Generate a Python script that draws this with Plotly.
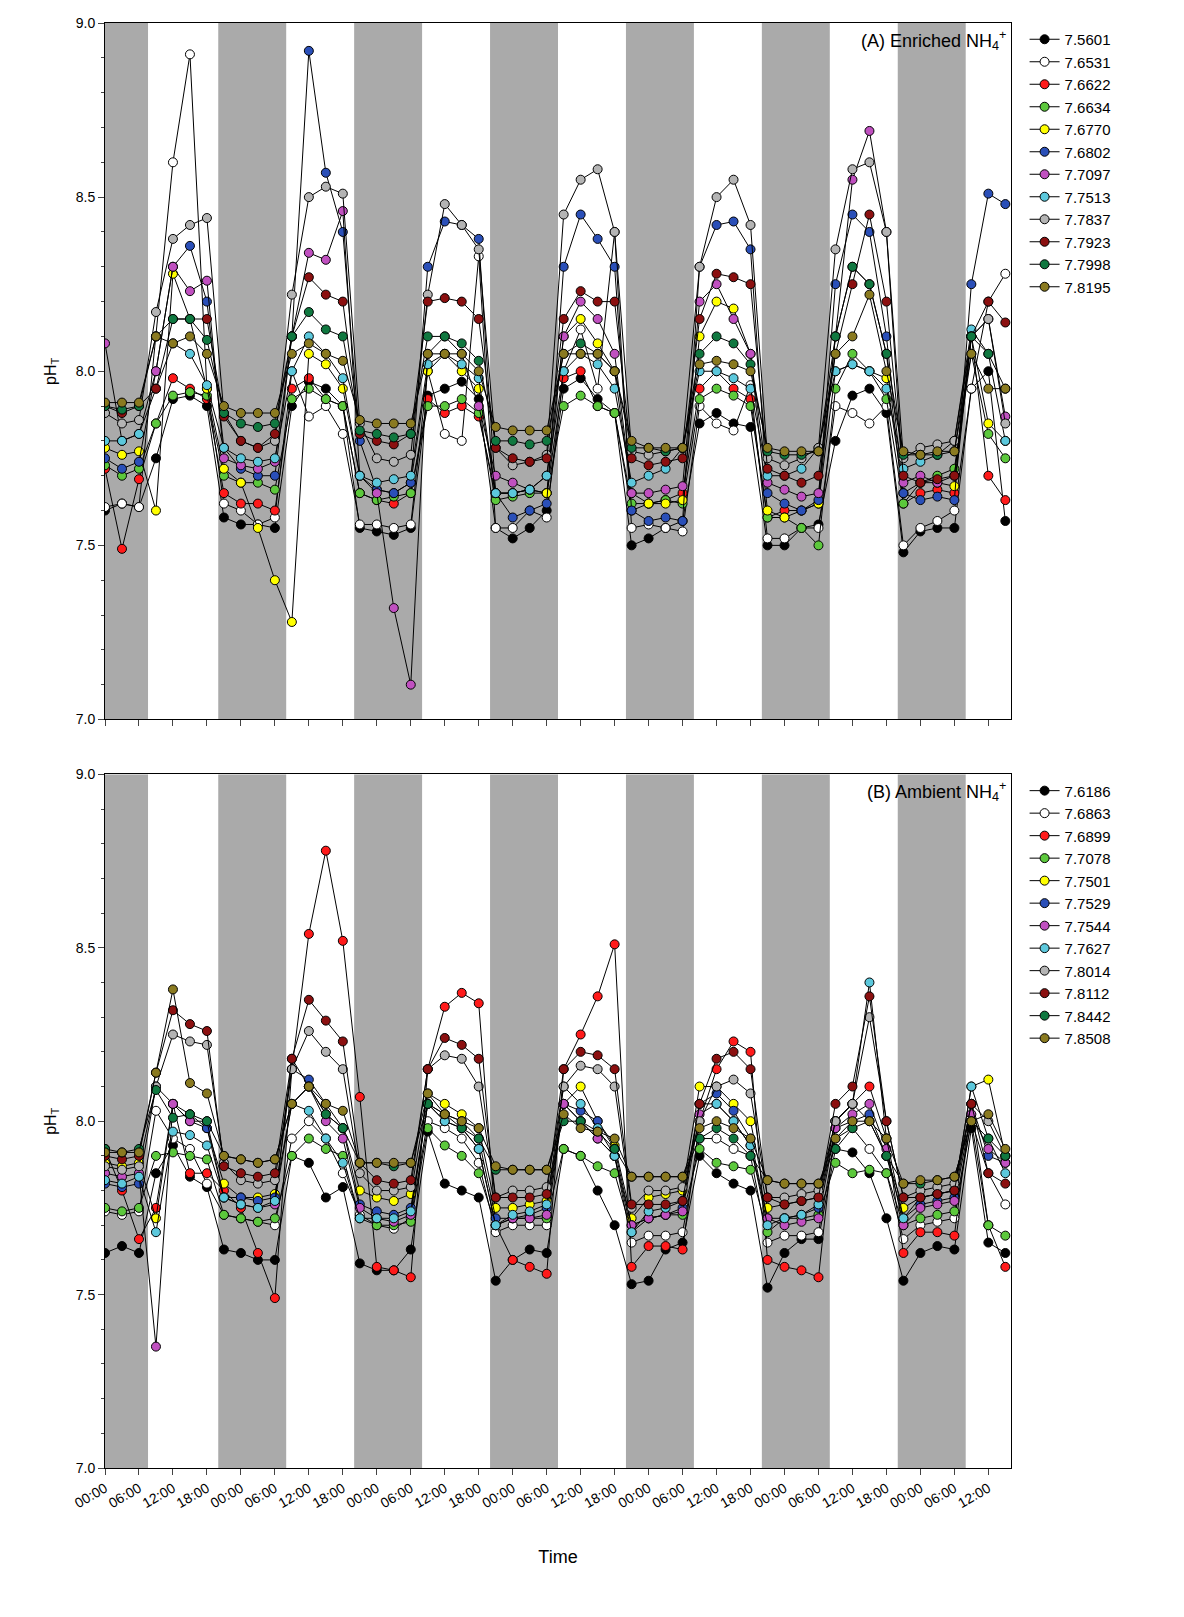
import pandas as pd
import plotly.graph_objects as go

# sampling every 3 h from 00:00 of day 0
hours = list(range(0, 160, 3))
start = pd.Timestamp("2000-01-01 00:00")
times = [start + pd.Timedelta(hours=h) for h in hours]

colors = ["#000000", "#ffffff", "#ff1a1a", "#5cc83c", "#ffff00", "#2a4fb8",
          "#c050c0", "#5cc8dc", "#b4b4b4", "#8b1010", "#107840", "#8a7a20"]

names_a = ["7.5601", "7.6531", "7.6622", "7.6634", "7.6770", "7.6802",
           "7.7097", "7.7513", "7.7837", "7.7923", "7.7998", "7.8195"]
names_b = ["7.6186", "7.6863", "7.6899", "7.7078", "7.7501", "7.7529",
           "7.7544", "7.7627", "7.8014", "7.8112", "7.8442", "7.8508"]

enriched = [
    [7.60,7.62,7.61,7.75,7.92,7.93,7.90,7.58, 7.56,7.56,7.55,7.90,7.97,7.95,7.90,7.55,
     7.54,7.53,7.55,7.93,7.95,7.97,7.92,7.55, 7.52,7.55,7.60,7.95,7.98,7.92,7.88,7.50,
     7.52,7.55,7.57,7.85,7.88,7.85,7.84,7.50, 7.50,7.55,7.56,7.80,7.93,7.95,7.88,7.48,
     7.54,7.55,7.55,7.95,8.00,7.57],
    [7.61,7.62,7.61,8.10,8.60,8.91,7.95,7.62, 7.60,7.56,7.58,8.00,7.87,7.90,7.82,7.56,
     7.56,7.55,7.56,8.00,7.82,7.80,8.33,7.55, 7.55,7.60,7.58,8.00,8.12,7.95,8.40,7.55,
     7.56,7.55,7.54,7.90,7.85,7.83,7.96,7.52, 7.52,7.55,7.55,7.90,7.88,7.85,7.90,7.50,
     7.55,7.57,7.60,7.95,8.20,8.28],
    [7.72,7.49,7.69,7.85,7.98,7.95,7.92,7.65, 7.62,7.62,7.60,7.95,7.98,7.92,7.90,7.65,
     7.63,7.62,7.65,7.92,7.88,7.90,7.87,7.65, 7.65,7.66,7.65,7.98,8.00,7.90,7.88,7.60,
     7.62,7.63,7.65,7.95,8.00,7.95,7.92,7.58, 7.60,7.60,7.62,8.10,8.30,8.25,8.05,7.62,
     7.65,7.66,7.65,8.10,7.70,7.63],
    [7.73,7.70,7.72,7.85,7.93,7.94,7.93,7.70, 7.68,7.68,7.66,7.92,7.95,7.92,7.90,7.65,
     7.63,7.64,7.65,7.90,7.90,7.92,7.88,7.63, 7.64,7.65,7.65,7.90,7.93,7.90,7.88,7.62,
     7.62,7.63,7.62,7.92,7.95,7.93,7.90,7.58, 7.58,7.55,7.50,7.95,8.05,8.00,7.92,7.62,
     7.68,7.70,7.72,8.05,7.82,7.75],
    [7.78,7.76,7.77,7.60,8.28,8.15,7.95,7.72, 7.68,7.55,7.40,7.28,8.05,8.02,7.95,7.70,
     7.66,7.65,7.68,8.00,8.05,8.00,7.95,7.65, 7.65,7.66,7.65,8.10,8.15,8.08,8.00,7.65,
     7.62,7.62,7.63,8.10,8.20,8.18,8.05,7.60, 7.58,7.60,7.62,8.00,8.02,8.00,7.98,7.65,
     7.68,7.68,7.67,8.10,7.85,7.80],
    [7.75,7.72,7.74,8.00,8.30,8.36,8.20,7.78, 7.72,7.70,7.70,8.10,8.92,8.57,8.40,7.80,
     7.66,7.65,7.68,8.30,8.43,8.42,8.38,7.65, 7.58,7.60,7.62,8.30,8.45,8.38,8.30,7.60,
     7.57,7.58,7.57,8.30,8.42,8.43,8.35,7.65, 7.62,7.60,7.63,8.25,8.45,8.40,8.10,7.65,
     7.63,7.64,7.63,8.25,8.51,8.48],
    [8.08,7.80,7.82,8.00,8.30,8.23,8.26,7.75, 7.73,7.72,7.74,8.10,8.34,8.32,8.46,7.70,
     7.65,7.32,7.10,8.05,8.10,8.05,7.90,7.70, 7.68,7.66,7.70,8.10,8.20,8.15,8.05,7.65,
     7.65,7.66,7.67,8.20,8.25,8.15,8.05,7.68, 7.66,7.64,7.65,8.10,8.55,8.69,8.40,7.68,
     7.70,7.68,7.70,8.10,8.15,7.87],
    [7.80,7.80,7.82,7.95,8.08,8.05,7.96,7.78, 7.75,7.74,7.75,8.00,8.10,8.05,7.98,7.70,
     7.68,7.69,7.70,8.02,8.05,8.02,7.98,7.65, 7.65,7.66,7.70,8.00,8.05,8.02,7.95,7.68,
     7.70,7.72,7.78,8.00,8.00,7.98,7.95,7.70, 7.70,7.72,7.78,8.00,8.02,8.00,7.95,7.72,
     7.74,7.76,7.80,8.12,8.05,7.80],
    [7.88,7.85,7.86,8.17,8.38,8.42,8.44,7.88, 7.80,7.78,7.80,8.22,8.50,8.53,8.51,7.85,
     7.75,7.74,7.76,8.22,8.48,8.42,8.35,7.78, 7.73,7.74,7.76,8.45,8.55,8.58,8.40,7.77,
     7.76,7.77,7.78,8.30,8.50,8.55,8.42,7.75, 7.73,7.75,7.78,8.35,8.58,8.60,8.40,7.75,
     7.78,7.79,7.80,8.10,8.15,7.85],
    [7.90,7.88,7.90,7.95,8.15,8.15,8.15,7.87, 7.80,7.78,7.82,8.10,8.27,8.22,8.20,7.82,
     7.80,7.79,7.82,8.20,8.21,8.20,8.15,7.78, 7.75,7.74,7.75,8.15,8.23,8.20,8.20,7.75,
     7.73,7.74,7.75,8.15,8.28,8.27,8.25,7.72, 7.70,7.68,7.70,8.05,8.25,8.45,8.20,7.70,
     7.68,7.69,7.70,8.10,8.20,8.14],
    [7.90,7.89,7.90,8.10,8.15,8.15,8.09,7.88, 7.85,7.84,7.85,8.10,8.17,8.12,8.10,7.83,
     7.82,7.81,7.82,8.10,8.10,8.08,8.03,7.80, 7.80,7.79,7.80,8.05,8.08,8.05,8.00,7.78,
     7.78,7.77,7.78,8.05,8.10,8.08,8.02,7.77, 7.76,7.76,7.77,8.10,8.30,8.25,8.05,7.76,
     7.76,7.76,7.77,8.10,8.05,7.95],
    [7.91,7.91,7.91,8.10,8.08,8.10,8.05,7.90, 7.88,7.88,7.88,8.05,8.08,8.05,8.03,7.86,
     7.85,7.85,7.85,8.05,8.05,8.05,8.00,7.84, 7.83,7.83,7.83,8.05,8.05,8.05,8.00,7.80,
     7.78,7.78,7.78,8.02,8.03,8.02,8.00,7.78, 7.77,7.77,7.77,8.05,8.10,8.22,8.00,7.77,
     7.76,7.77,7.77,8.05,7.95,7.95],
]

ambient = [
    [7.62,7.64,7.62,7.85,7.93,7.84,7.81,7.63, 7.62,7.60,7.60,7.90,7.88,7.78,7.81,7.59,
     7.57,7.57,7.63,7.97,7.82,7.80,7.78,7.54, 7.60,7.63,7.62,7.92,7.90,7.80,7.70,7.53,
     7.54,7.63,7.65,7.90,7.85,7.82,7.80,7.52, 7.62,7.66,7.66,7.92,7.91,7.85,7.72,7.54,
     7.62,7.64,7.63,7.98,7.65,7.62],
    [7.74,7.73,7.74,8.03,7.95,7.92,7.82,7.73, 7.72,7.71,7.70,7.95,8.00,7.95,7.85,7.73,
     7.70,7.69,7.72,8.00,7.98,7.95,7.88,7.68, 7.70,7.70,7.70,8.05,8.00,7.95,7.90,7.65,
     7.67,7.67,7.68,7.95,7.95,7.92,7.90,7.65, 7.67,7.67,7.68,7.95,7.98,7.92,7.85,7.66,
     7.70,7.71,7.72,8.00,7.85,7.76],
    [7.92,7.80,7.66,7.75,8.05,7.85,7.85,7.80, 7.75,7.62,7.49,8.15,8.54,8.78,8.52,8.07,
     7.58,7.57,7.55,8.15,8.33,8.37,8.34,7.70, 7.60,7.58,7.56,8.15,8.25,8.36,8.51,7.58,
     7.64,7.64,7.63,8.00,8.15,8.23,8.20,7.60, 7.58,7.57,7.55,8.00,8.05,8.10,7.95,7.62,
     7.68,7.68,7.67,8.05,7.70,7.58],
    [7.75,7.74,7.75,7.90,7.91,7.90,7.89,7.73, 7.72,7.71,7.72,7.90,7.95,7.92,7.90,7.72,
     7.70,7.70,7.71,7.98,7.93,7.90,7.85,7.70, 7.72,7.72,7.72,7.92,7.90,7.87,7.85,7.68,
     7.72,7.73,7.73,7.92,7.88,7.87,7.86,7.68, 7.72,7.72,7.73,7.88,7.85,7.86,7.85,7.70,
     7.72,7.73,7.74,8.00,7.70,7.67],
    [7.88,7.87,7.88,7.72,8.05,8.02,7.98,7.82, 7.78,7.78,7.79,8.05,8.10,8.02,7.98,7.80,
     7.78,7.77,7.79,8.08,8.05,8.02,7.98,7.75, 7.75,7.76,7.77,8.05,8.10,8.00,7.93,7.72,
     7.78,7.79,7.80,8.10,8.10,8.05,8.00,7.75, 7.76,7.77,7.78,8.00,8.05,8.00,7.90,7.75,
     7.78,7.79,7.80,8.10,8.12,7.90],
    [7.82,7.81,7.82,8.10,8.05,8.00,7.98,7.78, 7.78,7.77,7.78,8.15,8.12,8.05,7.98,7.76,
     7.74,7.73,7.75,8.05,8.02,8.00,7.95,7.72, 7.72,7.73,7.75,8.05,8.03,8.00,7.92,7.70,
     7.72,7.73,7.75,8.05,8.08,8.03,7.95,7.72, 7.72,7.73,7.75,7.98,8.00,8.02,7.90,7.72,
     7.76,7.77,7.78,8.05,7.90,7.88],
    [7.85,7.84,7.85,7.35,8.05,8.00,8.00,7.78, 7.76,7.75,7.76,8.18,8.10,8.00,7.95,7.75,
     7.72,7.71,7.73,8.05,8.00,7.98,7.92,7.70, 7.72,7.72,7.73,8.05,8.00,7.95,7.90,7.70,
     7.72,7.73,7.74,8.02,8.05,8.00,7.93,7.72, 7.70,7.71,7.72,7.98,8.02,8.05,7.92,7.70,
     7.75,7.76,7.77,8.02,7.92,7.88],
    [7.83,7.82,7.84,7.68,7.97,7.96,7.93,7.78, 7.76,7.75,7.77,8.05,8.03,7.95,7.88,7.72,
     7.72,7.72,7.74,8.05,8.00,7.98,7.92,7.70, 7.73,7.74,7.76,8.10,8.05,7.98,7.90,7.68,
     7.74,7.75,7.77,8.05,8.05,8.00,7.93,7.70, 7.72,7.73,7.76,8.00,8.05,8.40,7.95,7.72,
     7.78,7.79,7.80,8.10,7.95,7.85],
    [7.87,7.86,7.87,8.10,8.25,8.23,8.22,7.88, 7.83,7.82,7.83,8.15,8.26,8.20,8.15,7.85,
     7.80,7.80,7.81,8.15,8.19,8.18,8.10,7.78, 7.80,7.80,7.81,8.10,8.16,8.15,8.10,7.75,
     7.80,7.80,7.81,8.00,8.10,8.12,8.08,7.78, 7.78,7.79,7.80,8.00,8.05,8.30,8.00,7.78,
     7.80,7.81,7.82,8.05,8.00,7.90],
    [7.90,7.89,7.90,8.14,8.32,8.28,8.26,7.87, 7.85,7.84,7.85,8.18,8.35,8.29,8.23,7.88,
     7.83,7.82,7.83,8.15,8.24,8.22,8.18,7.78, 7.78,7.78,7.79,8.15,8.20,8.19,8.15,7.76,
     7.76,7.76,7.77,8.05,8.18,8.20,8.15,7.78, 7.76,7.77,7.78,8.05,8.10,8.36,8.00,7.78,
     7.78,7.79,7.80,8.05,7.85,7.82],
    [7.92,7.91,7.92,8.09,8.01,8.02,8.00,7.90, 7.89,7.88,7.89,8.05,8.10,8.02,7.98,7.88,
     7.88,7.87,7.88,8.05,8.02,7.98,7.95,7.86, 7.86,7.86,7.86,8.00,8.00,7.97,7.92,7.84,
     7.84,7.84,7.84,7.95,7.98,7.95,7.90,7.83, 7.82,7.82,7.82,7.92,7.98,8.00,7.90,7.82,
     7.82,7.83,7.84,8.00,7.95,7.90],
    [7.91,7.91,7.91,8.14,8.38,8.11,8.08,7.90, 7.89,7.88,7.89,8.05,8.10,8.05,8.03,7.88,
     7.88,7.88,7.88,8.08,8.02,8.00,7.98,7.87, 7.86,7.86,7.86,8.02,7.98,7.97,7.95,7.84,
     7.84,7.84,7.84,7.98,8.00,7.98,7.95,7.83, 7.82,7.82,7.82,7.95,8.00,8.00,7.95,7.82,
     7.83,7.83,7.84,8.00,8.02,7.92],
]

# dark periods (hours from start)
nights = [(0, 7.6), (20, 32), (44, 56), (68, 80), (92, 104), (116, 128), (140, 152)]

fig = go.Figure()
for i in range(12):
    fig.add_trace(go.Scatter(x=times, y=enriched[i], name=names_a[i], mode="lines+markers",
                             line=dict(color="black", width=1),
                             marker=dict(size=9, color=colors[i], line=dict(color="black", width=1)),
                             xaxis="x", yaxis="y", legend="legend"))
for i in range(12):
    fig.add_trace(go.Scatter(x=times, y=ambient[i], name=names_b[i], mode="lines+markers",
                             line=dict(color="black", width=1),
                             marker=dict(size=9, color=colors[i], line=dict(color="black", width=1)),
                             xaxis="x2", yaxis="y2", legend="legend2"))

shapes = []
for a, b in nights:
    for xr, yr in [("x", "y domain"), ("x2", "y2 domain")]:
        shapes.append(dict(type="rect", xref=xr, yref=yr,
                           x0=start + pd.Timedelta(hours=a), x1=start + pd.Timedelta(hours=b),
                           y0=0, y1=1, fillcolor="#aaaaaa", line_width=0, layer="below"))

xr = [start, start + pd.Timedelta(hours=160)]
xcommon = dict(range=xr, dtick=6 * 3600 * 1000, tickformat="%H:%M", ticks="outside",
               ticklen=6, showline=True, linecolor="black", mirror=True, showgrid=False,
               tickangle=-30, tickfont=dict(size=14), zeroline=False, automargin=False)
ycommon = dict(range=[7.0, 9.0], dtick=0.5, tickformat=".1f", ticks="outside", ticklen=6,
               showline=True, linecolor="black", mirror=True, showgrid=False, automargin=False,
               tickfont=dict(size=14), title=dict(text="pH<sub>T</sub>", font=dict(size=16)),
               minor=dict(dtick=0.1, ticks="outside", ticklen=3))

fig.update_layout(
    width=1184, height=1617, plot_bgcolor="white", paper_bgcolor="white",
    font=dict(family="Liberation Sans, Arial", color="black"),
    margin=dict(l=97, r=181, t=15, b=157, autoexpand=False),
    shapes=shapes,
    xaxis=dict(xcommon, domain=[0, 1], anchor="y", showticklabels=False),
    yaxis=dict(ycommon, domain=[0.518, 1], anchor="x"),
    xaxis2=dict(xcommon, domain=[0, 1], anchor="y2",
                title=dict(text="Time", font=dict(size=18), standoff=40)),
    yaxis2=dict(ycommon, domain=[0, 0.480], anchor="x2"),
    legend=dict(x=1.015, y=1.0, yanchor="top", font=dict(size=15), tracegroupgap=0,
                bgcolor="rgba(0,0,0,0)"),
    legend2=dict(x=1.015, y=0.480, yanchor="top", font=dict(size=15), tracegroupgap=0,
                 bgcolor="rgba(0,0,0,0)"),
    annotations=[
        dict(text="(A) Enriched NH<sub>4</sub><sup>+</sup>", xref="paper", yref="paper",
             x=0.997, y=0.998, xanchor="right", yanchor="top", showarrow=False, font=dict(size=18)),
        dict(text="(B) Ambient NH<sub>4</sub><sup>+</sup>", xref="paper", yref="paper",
             x=0.997, y=0.478, xanchor="right", yanchor="top", showarrow=False, font=dict(size=18)),
    ],
)

fig.write_html("out.html")
